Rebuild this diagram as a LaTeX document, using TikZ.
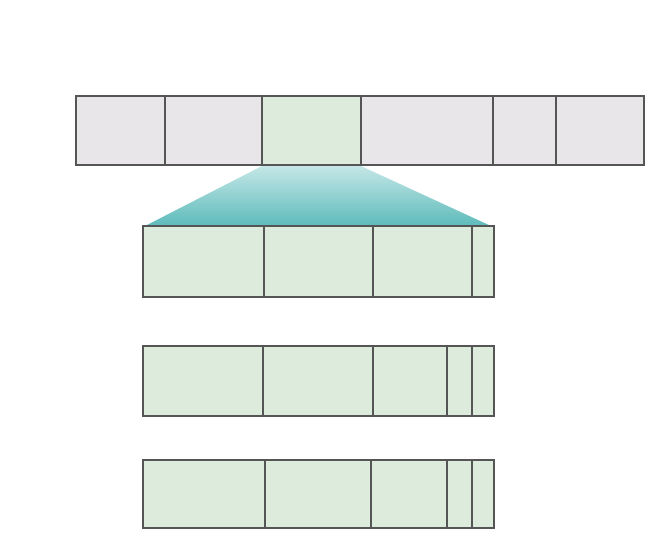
\documentclass[tikz,border=0pt]{standalone}
\usepackage{tikz}
\usetikzlibrary{calc}
\definecolor{cellgrey}{HTML}{E8E6E8}
\definecolor{cellgreen}{HTML}{DCEBDB}
\definecolor{edgegrey}{HTML}{555555}
\definecolor{tealtop}{HTML}{C4E6E6}
\definecolor{tealbot}{HTML}{5EBBBB}
\tikzset{greycell/.style={draw=edgegrey,fill=cellgrey,line width=0.06cm},
  greencell/.style={draw=edgegrey,fill=cellgreen,line width=0.06cm},
  divider/.style={draw=edgegrey,line width=0.06cm}}

\begin{document}
\begin{tikzpicture}[x=0.03cm,y=-0.03cm]
\useasboundingbox (0,0) rectangle (653,556);
% top bar
\foreach \a/\b in {76/165,165/262,361/493,493/556,556/644}
    \draw[greycell] (\a,96) rectangle (\b,165);
\draw[greencell] (262,96) rectangle (361,165);
\coordinate (selL) at (262,166);
\coordinate (selR) at (361,166);
\coordinate (r1L) at (145,226);
\coordinate (r1R) at (491,226);
% zoom wedge
\shade[top color=tealtop,bottom color=tealbot] (selL) -- (selR) -- (r1R) -- (r1L) -- cycle;
% expanded rows
\draw[greencell] (143,226) rectangle (494,297);
\foreach \x in {264,373,472}
    \draw[divider] (\x,226) -- (\x,297);
\draw[greencell] (143,346) rectangle (494,416);
\foreach \x in {263,373,447,472}
    \draw[divider] (\x,346) -- (\x,416);
\draw[greencell] (143,460) rectangle (494,528);
\foreach \x in {265,371,447,472}
    \draw[divider] (\x,460) -- (\x,528);
\end{tikzpicture}
\end{document}
